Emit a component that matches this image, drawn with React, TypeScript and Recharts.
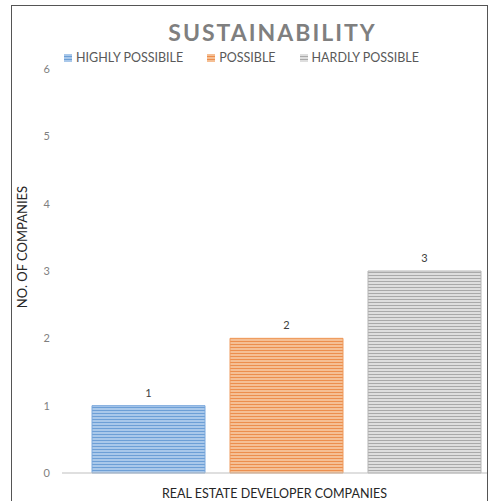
import { Bar, BarChart, XAxis, YAxis, LabelList } from 'recharts';

const category = ['REAL ESTATE DEVELOPER COMPANIES'];
const seriesNames = ['HIGHLY POSSIBILE', 'POSSIBLE', 'HARDLY POSSIBLE'];
const highlyPossible = [1];
const possible = [2];
const hardlyPossible = [3];
const yTicks = [0, 1, 2, 3, 4, 5, 6];

const keys = ['highly', 'possible', 'hardly'];
const palette = [
    { base: '#a9c8ea', line: '#6d9fd6', edge: '#7aa8dc' },
    { base: '#f5bf94', line: '#ec8e4d', edge: '#ef9a5c' },
    { base: '#dedede', line: '#a9a9a9', edge: '#b5b5b5' },
];

const chartData = category.map((name, i) => ({
    name,
    highly: highlyPossible[i],
    possible: possible[i],
    hardly: hardlyPossible[i],
}));

const font = 'Lato, "Open Sans", sans-serif';

function StripeLegend() {
    return (
        <div
            style={{
                position: 'absolute',
                left: 64,
                top: 50,
                display: 'flex',
                fontFamily: font,
                fontSize: 12.5,
                color: '#595959',
            }}
        >
            {seriesNames.map((s, i) => (
                <div key={s} style={{ display: 'flex', alignItems: 'center', marginRight: 24 }}>
                    <svg width={8} height={8} style={{ marginRight: 4 }}>
                        <defs>
                            <pattern id={`lg-${i}`} width={4} height={3} patternUnits="userSpaceOnUse">
                                <rect width={4} height={3} fill={palette[i].base} />
                                <rect y={2} width={4} height={1} fill={palette[i].line} />
                            </pattern>
                        </defs>
                        <rect width={8} height={8} fill={`url(#lg-${i})`} />
                    </svg>
                    <span>{s}</span>
                </div>
            ))}
        </div>
    );
}

// y-axis title sits a bit above the plot's middle, like the original
const YTitle = (props: any) => {
    const cy = 247;
    return (
        <text
            x={22}
            y={cy}
            transform={`rotate(-90, 22, ${cy})`}
            textAnchor="middle"
            dominantBaseline="central"
            fill="#262626"
            fontSize={13}
            fontFamily={font}
        >
            NO. OF COMPANIES
        </text>
    );
};

export default function App() {
    return (
        <div style={{ position: 'absolute', left: 0, top: 0, width: 492, height: 501, background: '#fff', overflow: 'hidden' }}>
            <div
                style={{
                    position: 'absolute',
                    left: 11,
                    top: 5,
                    width: 475,
                    height: 520,
                    border: '1px solid #555',
                }}
            />
            <div
                style={{
                    position: 'absolute',
                    left: 0,
                    top: 18,
                    width: 545,
                    textAlign: 'center',
                    fontFamily: font,
                    fontWeight: 700,
                    fontSize: 23,
                    letterSpacing: 2,
                    color: '#7f7f7f',
                }}
            >
                SUSTAINABILITY
            </div>
            <BarChart
                width={492}
                height={501}
                data={chartData}
                margin={{ top: 69, right: 5, bottom: 0, left: 0 }}
                barSize={113}
                barGap={25}
                style={{ position: 'absolute', left: 0, top: 0 }}
            >
                <defs>
                    {palette.map((c, i) => (
                        <pattern key={i} id={`stripe-${i}`} width={4} height={3} patternUnits="userSpaceOnUse">
                            <rect width={4} height={3} fill={c.base} />
                            <rect y={2} width={4} height={1} fill={c.line} />
                        </pattern>
                    ))}
                </defs>
                <XAxis
                    dataKey="name"
                    tick={false}
                    tickLine={false}
                    height={28}
                    padding={{ left: 24, right: 0 }}
                    axisLine={{ stroke: '#bfbfbf' }}
                    label={{
                        value: category[0],
                        position: 'insideBottom',
                        offset: 3,
                        fill: '#262626',
                        fontSize: 12.5,
                        fontFamily: font,
                    }}
                />
                <YAxis
                    domain={[0, 6]}
                    ticks={yTicks}
                    width={62}
                    axisLine={false}
                    tickLine={false}
                    tickMargin={6}
                    tick={{ fill: '#7f7f7f', fontSize: 11, fontFamily: font }}
                    label={<YTitle />}
                />
                {keys.map((k, i) => (
                    <Bar
                        key={k}
                        dataKey={k}
                        name={seriesNames[i]}
                        fill={`url(#stripe-${i})`}
                        stroke={palette[i].edge}
                        strokeWidth={1}
                        isAnimationActive={false}
                    >
                        <LabelList dataKey={k} position="top" offset={9} fill="#404040" fontSize={11} fontFamily={font} />
                    </Bar>
                ))}
            </BarChart>
            <StripeLegend />
        </div>
    );
}
